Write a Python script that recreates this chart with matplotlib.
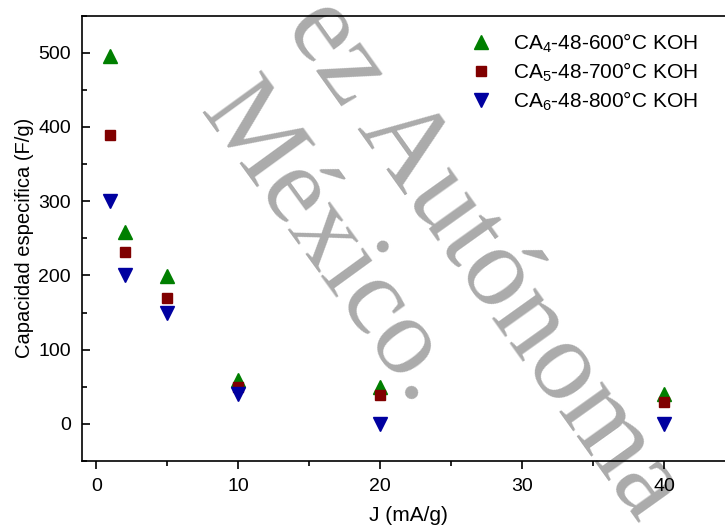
import matplotlib
matplotlib.use("Agg")
import matplotlib.pyplot as plt
from matplotlib.ticker import MultipleLocator

plt.rcParams['font.family'] = ['Liberation Sans', 'DejaVu Sans']
plt.rcParams['mathtext.fontset'] = 'custom'
plt.rcParams['mathtext.rm'] = 'Liberation Sans'

# Current density (mA/g)
current_density = [1, 2, 5, 10, 20, 40]

# Specific capacitance (F/g) for each activated carbon
cap_600 = [495, 258, 199, 59, 50, 40]
cap_700 = [389, 232, 169, 49, 39, 29]
cap_800 = [300, 200, 150, 40, 0, 0]

labels = [r'CA$_4$-48-600°C KOH', r'CA$_5$-48-700°C KOH', r'CA$_6$-48-800°C KOH']

W, H = 725, 527
ax_l, ax_r, ax_t, ax_b = 82, 735, 15.5, 461
fig = plt.figure(figsize=(W / 100, H / 100), dpi=100)
ax = fig.add_axes([ax_l / W, 1 - ax_b / H, (ax_r - ax_l) / W, (ax_b - ax_t) / H])
ax.set_facecolor('none')

ax.plot(current_density, cap_600, linestyle='none', marker='^', ms=10,
        color='#007f00', mec='#007f00', label=labels[0])
ax.plot(current_density, cap_700, linestyle='none', marker='s', ms=7.5,
        color='#800000', mec='#800000', label=labels[1])
ax.plot(current_density, cap_800, linestyle='none', marker='v', ms=10,
        color='#0000a0', mec='#0000a0', label=labels[2])

ax.set_xlim(-1, 45)
ax.set_ylim(-50, 550)
ax.xaxis.set_major_locator(MultipleLocator(10))
ax.xaxis.set_minor_locator(MultipleLocator(5))
ax.yaxis.set_major_locator(MultipleLocator(100))
ax.yaxis.set_minor_locator(MultipleLocator(50))

ax.tick_params(axis='x', which='major', direction='out', length=6, width=1.2,
               labelsize=14, pad=6)
ax.tick_params(axis='x', which='minor', direction='out', length=3.5, width=1.2)
ax.tick_params(axis='y', which='major', direction='in', length=6, width=1.2,
               labelsize=14, pad=8)
ax.tick_params(axis='y', which='minor', direction='in', length=3.5, width=1.2)

for side in ('left', 'bottom', 'top'):
    ax.spines[side].set_linewidth(1.2)
ax.spines['right'].set_visible(False)

ax.set_xlabel('J (mA/g)', fontsize=15, labelpad=8)
ax.set_ylabel('Capacidad especifica (F/g)', fontsize=14.5, labelpad=3)

leg = ax.legend(loc='upper left',
                bbox_to_anchor=((452 - ax_l) / (ax_r - ax_l), 1 - (23 - ax_t) / (ax_b - ax_t)),
                frameon=False, fontsize=15, handletextpad=0.55,
                labelspacing=0.25, borderaxespad=0.0, borderpad=0.4)

# Background watermark
wm = dict(family='Liberation Serif', color='#ababab',
          rotation_mode='anchor', ha='center', va='baseline',
          transform=fig.transFigure, zorder=-1)
fig.text(461.6 / W, 1 - 274.7 / H, 'ez Autónoma', fontsize=83, rotation=-54.5, **wm)
fig.text(306.9 / W, 1 - 260.1 / H, 'México.', fontsize=80, rotation=-54, **wm)

fig.savefig('out.png', dpi=100)
